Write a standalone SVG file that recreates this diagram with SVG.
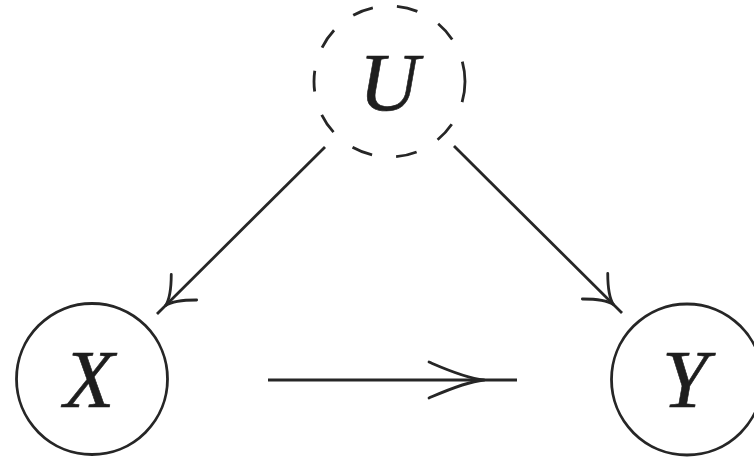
<svg xmlns="http://www.w3.org/2000/svg" width="754" height="459" viewBox="0 0 754 459">
<style>
.node{fill:none;stroke:#262626;stroke-width:2.8}
.dash{stroke-dasharray:21 24.34}
.lbl{font-family:'Liberation Serif','Times New Roman',serif;font-style:italic;font-size:83px;fill:#1e1e1e;stroke:#1e1e1e;stroke-width:0.6;text-anchor:middle}
.edge{fill:none;stroke:#262626;stroke-width:2.8}
.head{fill:none;stroke:#262626;stroke-width:2.8;stroke-linecap:round}
</style>
<defs>
<marker id="hd" markerUnits="userSpaceOnUse" viewBox="-50 -25 60 50" refX="0" refY="0" markerWidth="60" markerHeight="50" orient="auto" overflow="visible">
<path class="head" d="M-38,-18 C-32,-12 -22,-2 -12,0 M-38,18 C-32,12 -22,2 -12,0"/>
</marker>
<marker id="hh" markerUnits="userSpaceOnUse" viewBox="-100 -25 110 50" refX="0" refY="0" markerWidth="110" markerHeight="50" orient="auto" overflow="visible">
<path class="head" d="M-88,-18 C-74,-12 -52,-2 -33,0 M-88,18 C-74,12 -52,2 -33,0"/>
</marker>
</defs>
<g id="connectors">
<line class="edge" x1="325" y1="147" x2="157" y2="314" marker-end="url(#hd)"/>
<line class="edge" x1="454" y1="146" x2="622" y2="313" marker-end="url(#hd)"/>
<line class="edge" x1="268" y1="380" x2="517" y2="380" marker-end="url(#hh)"/>
</g>
<g id="U">
<circle class="node dash" cx="389.5" cy="81.5" r="75.5"/>
<text class="lbl" x="389" y="110">U</text>
</g>
<g id="X">
<circle class="node" cx="92" cy="379" r="75.5"/>
<text class="lbl" x="89" y="407">X</text>
</g>
<g id="Y">
<circle class="node" cx="687" cy="379.5" r="75.5"/>
<text class="lbl" x="685" y="407">Y</text>
</g>
</svg>
